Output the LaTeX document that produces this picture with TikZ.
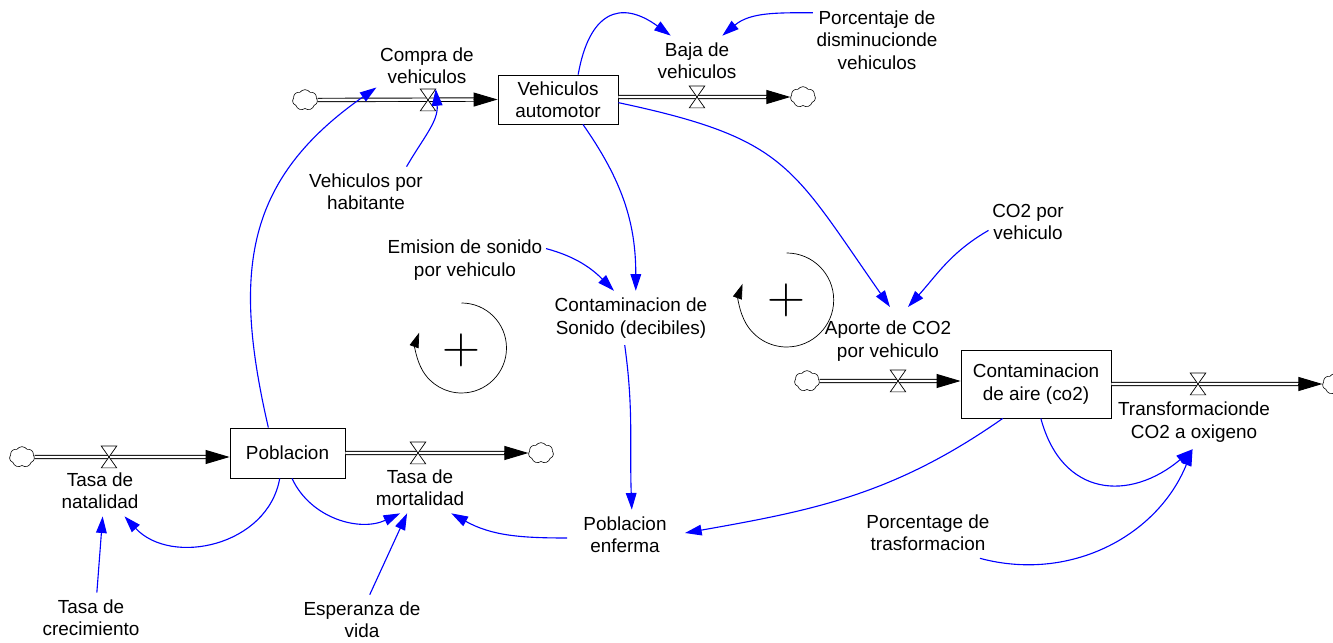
\documentclass[tikz,border=0pt]{standalone}
\usepackage[no-math]{fontspec}
\setmainfont{Liberation Sans}
\usetikzlibrary{arrows.meta,shapes.symbols,calc}

\tikzset{
  stock/.style={draw, line width=0.7pt, align=center, inner sep=0pt},
  aux/.style={align=center, inner xsep=3pt, inner ysep=6pt},
  link/.style={blue, line width=0.95pt, -{Triangle[length=0.5cm,width=0.32cm]}},
  pipe/.style={double, line width=0.8pt, double distance=2.1pt, shorten >=0.5cm},
  pipehead/.style={line width=0.8pt, -{Triangle[length=0.72cm,width=0.42cm]}},
  cloudnode/.style={cloud, cloud puffs=7, cloud puff arc=110, aspect=1.2, draw,
    line width=0.5pt, minimum width=0.75cm, minimum height=0.62cm, inner sep=0pt},
  valvenode/.style={minimum width=0.45cm, minimum height=0.64cm, inner sep=0pt},
  loopline/.style={line width=0.6pt, -{Triangle[length=0.45cm,width=0.28cm]}},
  polarity/.style={scale=2.6}
}

\def\valve#1#2{
  % 1: name
  % 2: x,y
  \node[valvenode] (#1) at (#2) {};
  \draw[line width=0.6pt, fill=white] (#1.north west) -- (#1.north east)
    -- (#1.south west) -- (#1.south east) -- cycle;
}
\def\pipe#1#2{
  % 1: from
  % 2: to
  \draw[pipe] (#1) -- (#2);
  \draw[pipehead] ($(#2)!0.72cm!(#1)$) -- (#2);
}

\begin{document}
\begin{tikzpicture}[x=0.03cm, y=0.03cm, font=\fontsize{16.15}{19}\selectfont]
  \useasboundingbox (0,0) rectangle (1333,643);

  % stocks
  \node[stock, minimum width=3.6cm, minimum height=1.47cm] (veh) at (558,543.5) {Vehiculos\\automotor};
  \node[stock, minimum width=3.45cm, minimum height=1.5cm] (pob) at (287.5,190) {Poblacion};
  \node[stock, minimum width=4.5cm, minimum height=2.04cm] (aire) at (1036,259) {Contaminacion\\de aire (co2)};

  % clouds
  \node[cloudnode] (c1) at (305,543) {};
  \node[cloudnode] (c2) at (803,546) {};
  \node[cloudnode] (c3) at (22,186) {};
  \node[cloudnode] (c4) at (541,190) {};
  \node[cloudnode] (c5) at (807,262) {};
  \node[cloudnode] (c6) at (1335,259) {};

  % flows
  \coordinate (p2) at (veh.east |- c2);
  \coordinate (p3) at (pob.west |- c3);
  \coordinate (p5) at (aire.west |- c5);
  \coordinate (p6) at (aire.east |- c6);
  \pipe{c1.east}{veh.west}
  \pipe{p2}{c2.west}
  \pipe{c3.east}{p3}
  \pipe{pob.east}{c4.west}
  \pipe{c5.east}{p5}
  \pipe{p6}{c6.west}

  \valve{vCompra}{428,543}
  \valve{vBaja}{697,546}
  \valve{vNat}{109,186}
  \valve{vMort}{418,190}
  \valve{vAporte}{898,262}
  \valve{vTrans}{1198,259}

  % variables
  \node[aux] (compra) at (427,577) {Compra de\\vehiculos};
  \node[aux] (baja) at (697,582) {Baja de\\vehiculos};
  \node[aux] (porcdis) at (877,603) {Porcentaje de\\disminucionde\\vehiculos};
  \node[aux] (vehhab) at (366,451) {Vehiculos por\\habitante};
  \node[aux] (emision) at (465,383) {Emision de sonido\\por vehiculo};
  \node[aux] (sonido) at (631,325) {Contaminacion de\\Sonido (decibiles)};
  \node[aux] (co2veh) at (1028,421) {CO2 por\\vehiculo};
  \node[aux] (aporte) at (888,302) {Aporte de CO2\\por vehiculo};
  \node[aux] (transf) at (1194,221) {Transformacionde\\CO2 a oxigeno};
  \node[aux] (natal) at (100,152) {Tasa de\\natalidad};
  \node[aux] (mortal) at (420,155) {Tasa de\\mortalidad};
  \node[aux] (enferma) at (625,108) {Poblacion\\enferma};
  \node[aux] (porctrans) at (928,110) {Porcentage de\\trasformacion};
  \node[aux] (crec) at (91,25) {Tasa de\\crecimiento};
  \node[aux] (esper) at (362,23) {Esperanza de\\vida};

  % loops
  \coordinate (lp1) at (461.5,295);
  \coordinate (lp2) at (786.7,343);
  \node[polarity] (plus1) at (461.5,293) {$+$};
  \node[polarity] (plus2) at (786.7,343) {$+$};
  \draw[loopline] (lp1) ++(90:1.35cm) arc[start angle=90, end angle=-200, radius=1.35cm];
  \draw[loopline] (lp2) ++(90:1.41cm) arc[start angle=90, end angle=-200, radius=1.41cm];

  % links
  \draw[link] (pob.127) to[out=103,in=215,looseness=1.15] (compra.203);
  \draw[link] (vehhab.32) to[out=60,in=-85] (vCompra.north east);
  \draw[link] (veh.51) to[out=80,in=144,looseness=1.6] (baja.136);
  \draw[link] (porcdis.157) to[out=180,in=40] (baja.45);
  \draw[link] (veh.-3) to[out=-12,in=125,looseness=1.3] ([shift={(2,34)}]aporte.center);
  \draw[link] (veh.-45) to[out=-55,in=90] (sonido.80);
  \draw[link] (emision.8) to[out=-15,in=135] (sonido.122);
  \draw[link] (co2veh.192) to[out=210,in=48] ([shift={(20,34)}]aporte.center);
  \draw[link] (sonido.-103) to[out=-82,in=92] (enferma.75);
  \draw[link] (aire.-134) to[out=215,in=10] ([shift={(60,2)}]enferma.center);
  \draw[link] (aire.-82) to[out=-75,in=220,looseness=1.35] (transf.-93);
  \draw[link] (porctrans.-26) to[out=-15,in=248] (transf.-93);
  \draw[link] ([shift={(-58,-3)}]enferma.center) to[out=180,in=-29] (mortal.-39);
  \draw[link] (pob.-107) to[out=-100,in=-47,looseness=1.1] (natal.-46);
  \draw[link] (pob.-80) to[out=-65,in=205] (mortal.-128);
  \draw[link] (crec.77) -- (natal.-84);
  \draw[link] (esper.73) -- (mortal.-117);
\end{tikzpicture}
\end{document}
